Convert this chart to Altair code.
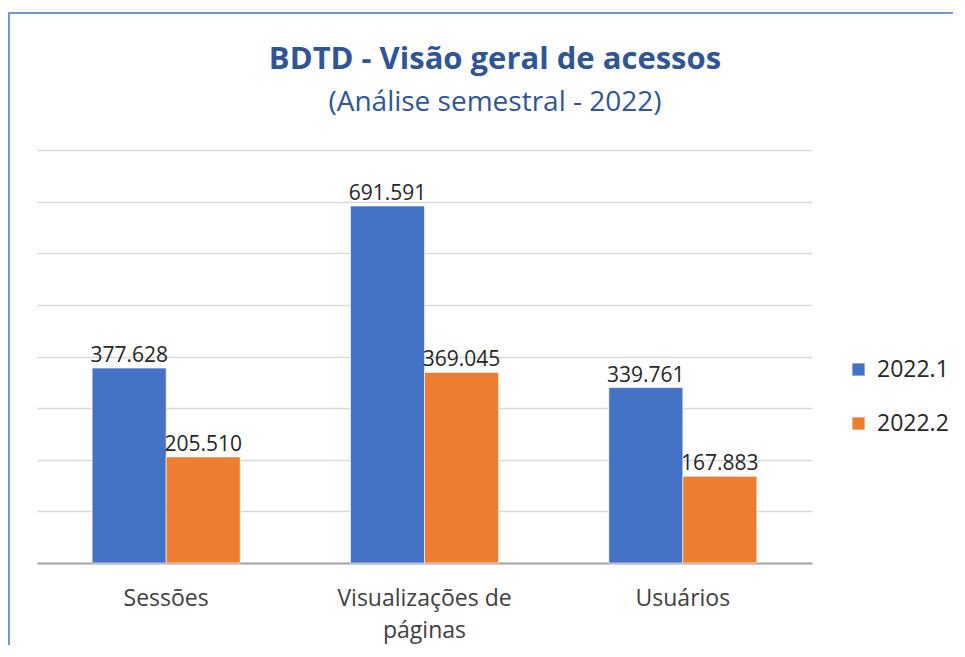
import altair as alt
import pandas as pd

categorias = ["Sessões", "Visualizações de páginas", "Usuários"]
semestres = ["2022.1", "2022.2"]
valores_2022_1 = [377628, 691591, 339761]
valores_2022_2 = [205510, 369045, 167883]
y_ticks = [0, 100000, 200000, 300000, 400000, 500000, 600000, 700000, 800000]
cores = ["#4472C4", "#ED7D31"]
titulo = "BDTD - Visão geral de acessos"
subtitulo = "(Análise semestral - 2022)"

rows = []
for c, v1, v2 in zip(categorias, valores_2022_1, valores_2022_2):
    rows.append({"categoria": c, "semestre": semestres[0], "valor": v1})
    rows.append({"categoria": c, "semestre": semestres[1], "valor": v2})
df = pd.DataFrame(rows)

FONT = "Open Sans"

x_enc = alt.X(
    "categoria:N",
    sort=categorias,
    scale=alt.Scale(paddingInner=0.427, paddingOuter=0.2135),
    axis=alt.Axis(
        title=None,
        labelAngle=0,
        ticks=False,
        domain=True,
        domainColor="#A6A6A6",
        domainWidth=2,
        labelFont=FONT,
        labelFontSize=23,
        labelColor="#404040",
        labelPadding=24,
        labelLineHeight=32,
        labelExpr="datum.value == 'Visualizações de páginas' ? ['Visualizações de', 'páginas'] : datum.value",
    ),
)
y_enc = alt.Y(
    "valor:Q",
    scale=alt.Scale(domain=[0, 800000], nice=False),
    axis=alt.Axis(
        title=None,
        values=y_ticks,
        labels=False,
        ticks=False,
        domain=False,
        grid=True,
        gridColor="#D9D9D9",
        gridWidth=1.5,
    ),
)

base = alt.Chart(df).encode(
    x=x_enc,
    xOffset=alt.XOffset("semestre:N", sort=semestres),
    y=y_enc,
)

bars = base.mark_bar(stroke="white", strokeWidth=0.6).encode(
    color=alt.Color(
        "semestre:N",
        sort=semestres,
        scale=alt.Scale(domain=semestres, range=cores),
        legend=alt.Legend(
            title=None,
            orient="none",
            legendX=810,
            legendY=208,
            symbolType="square",
            symbolSize=150,
            symbolStrokeWidth=0,
            labelFont=FONT,
            labelFontSize=23,
            labelColor="#262626",
            rowPadding=30,
            labelOffset=7,
        ),
    )
)

labels = base.mark_text(
    baseline="bottom", dy=-2, font=FONT, fontSize=21, color="#262626"
).transform_calculate(
    rotulo="replace(format(datum.valor, ','), ',', '.')"
).encode(text="rotulo:N")

border = alt.Chart(alt.Data(values=[{}])).mark_rect(
    fill=None, stroke="#7096DA", strokeWidth=2
).encode(
    x=alt.value(-28), x2=alt.value(3000), y=alt.value(-137), y2=alt.value(3000)
)

title_mark = alt.Chart(alt.Data(values=[{"t": titulo}])).mark_text(
    font=FONT, fontSize=31, fontWeight="bold", color="#2F5597",
    align="center", baseline="alphabetic",
).encode(x=alt.value(458), y=alt.value(-81), text="t:N")

subtitle_mark = alt.Chart(alt.Data(values=[{"t": subtitulo}])).mark_text(
    font=FONT, fontSize=28, color="#2F5597",
    align="center", baseline="alphabetic",
).encode(x=alt.value(458), y=alt.value(-39), text="t:N")

chart = alt.layer(border, bars, labels, title_mark, subtitle_mark).properties(
    width=775,
    height=413,
    autosize=alt.AutoSizeParams(type="none"),
    padding={"left": 29, "top": 142, "right": 141, "bottom": 82},
).configure_view(stroke=None)

chart.save("out.html", embed_options={"renderer": "svg", "actions": False})
